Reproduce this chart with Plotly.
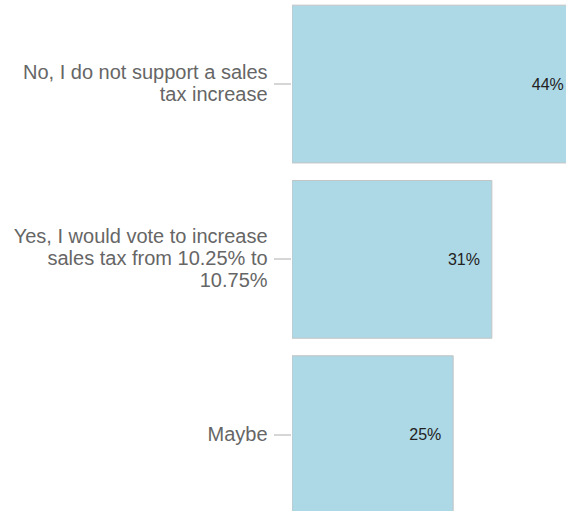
import plotly.graph_objects as go

categories = [
    "No, I do not support a sales\ntax increase",
    "Yes, I would vote to increase\nsales tax from 10.25% to\n10.75%",
    "Maybe",
]
values = [44, 31, 25]
value_labels = ["44%", "31%", "25%"]

FONT = "Liberation Sans, Arial, Helvetica, sans-serif"


def styled(label):
    # each line in 20px glyphs, line spacing driven by the 17px base font
    return "<br>".join(
        '<span style="font-size:20px">' + line + "</span>" for line in label.split("\n")
    )


fig = go.Figure(
    go.Bar(
        x=values,
        y=categories,
        orientation="h",
        marker=dict(color="#ADD8E6", line=dict(color="#c4c4c4", width=1)),
        text=[t + "\u00a0\u00a0" for t in value_labels],
        textposition="inside",
        insidetextanchor="end",
        insidetextfont=dict(color="#222222", size=16, family=FONT),
        hoverinfo="skip",
    )
)

fig.update_layout(
    width=566,
    height=511,
    margin=dict(l=292, r=0, t=0, b=0),
    paper_bgcolor="white",
    plot_bgcolor="white",
    bargap=0.1,
    showlegend=False,
    font=dict(family=FONT),
)
fig.update_xaxes(
    range=[0, 42.5],
    showgrid=False,
    zeroline=False,
    showticklabels=False,
    showline=False,
    ticks="",
)
fig.update_yaxes(
    range=[2.4355, -0.4795],
    tickvals=categories,
    ticktext=[styled(c) for c in categories],
    showgrid=False,
    zeroline=False,
    showline=False,
    ticks="outside",
    ticklen=17,
    tickwidth=2,
    tickcolor="#d6d6d6",
    ticklabelstandoff=3,
    tickfont=dict(size=17, color="#666666", family=FONT),
)

fig.write_html(
    "out.html",
    config={"displayModeBar": False},
    post_script="document.body.style.margin='0';document.body.style.overflow='hidden';",
)
